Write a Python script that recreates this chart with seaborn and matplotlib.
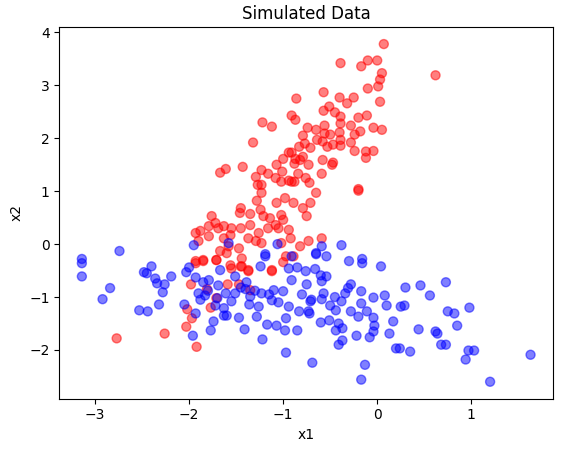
import matplotlib
matplotlib.use("Agg")
import matplotlib.pyplot as plt
import seaborn as sns
import pandas as pd

red_x = [0.07,-0.39,-0.17,-0.10,0.00,0.62,0.05,0.03,0.01,-0.10,-0.57,-0.86,-0.40,-0.25,-0.32,0.03,-0.51,-0.57,-0.45,-0.91,-0.87,-0.11,-0.20,-0.39,-1.22,-1.12,-0.74,-0.65,-0.56,-0.39,-0.28,-0.04,0.05,-0.18,-0.79,-0.56,-0.50,-0.40,-0.24,-1.32,-0.77,-0.64,-0.58,-0.39,-0.71,-0.83,-0.53,-0.47,-0.39,-0.28,-0.24,-0.12,-0.04,-0.12,-0.91,-0.94,-1.00,-0.87,-0.82,-0.79,-0.58,-0.73,-0.48,-0.47,-0.88,-1.61,-1.67,-1.43,-1.23,-1.07,-1.29,-1.16,-1.01,-0.84,-0.59,-0.76,-1.08,-0.94,-0.91,-0.88,-0.72,-1.02,-1.27,-1.23,-0.20,
         -0.20,-0.65,-0.71,-0.79,-0.75,-0.89,-0.98,-1.07,-1.23,-1.28,-1.24,-1.45,-1.46,-1.35,-1.21,-1.14,-1.02,-1.00,-1.08,-1.16,-1.05,-0.94,-0.92,-1.02,-1.26,-1.35,-1.37,-1.29,-1.23,-1.45,-1.55,-1.63,-1.69,-1.76,-1.72,-1.79,-1.88,-1.93,-1.79,-1.90,-1.63,-1.58,-1.67,-1.60,-1.71,-1.47,-1.44,-1.85,-1.93,-1.45,-1.37,-1.12,-0.97,-0.89,-0.82,-0.73,-0.59,-1.56,
         -1.93,-1.85,-1.71,-1.56,-1.44,-1.37,-1.12,-1.00,-1.98,-1.81,-1.59,-1.47,-1.35,-1.71,-1.77,-2.02,-1.97,-2.03,-2.26,-1.92,-2.77,-1.55]
red_y = [3.78,3.42,3.36,3.47,3.47,3.19,3.23,3.11,2.98,2.94,2.87,2.75,2.77,2.77,2.66,2.69,2.60,2.52,2.49,2.43,2.35,2.43,2.39,2.41,2.30,2.22,2.20,2.16,2.24,2.28,2.24,2.20,2.16,2.13,2.05,2.09,2.07,2.11,2.07,1.92,1.90,1.97,1.94,1.97,1.82,1.84,1.84,1.88,1.86,1.92,1.76,1.75,1.76,1.63,1.73,1.73,1.61,1.61,1.59,1.65,1.59,1.50,1.50,1.54,1.52,1.42,1.35,1.46,1.40,1.50,1.27,1.33,1.37,1.33,1.33,1.25,1.25,1.20,1.18,1.18,1.16,1.18,1.12,1.12,1.04,
         1.01,0.97,0.78,0.68,0.53,0.78,0.87,0.78,0.97,0.82,0.65,0.68,0.59,0.57,0.53,0.49,0.55,0.46,0.36,0.30,0.30,0.27,0.11,0.02,0.21,0.36,0.11,0.06,0.02,0.30,0.30,0.34,0.30,0.53,0.40,0.34,0.25,0.21,0.15,0.06,0.11,-0.04,-0.13,-0.17,-0.30,-0.08,-0.27,-0.30,-0.32,-0.42,-0.49,-0.49,-0.23,-0.23,-0.04,0.06,0.11,0.17,
         -0.36,-0.32,-0.30,-0.40,-0.42,-0.51,-0.51,-0.34,-0.76,-0.85,-0.76,-0.76,-0.87,-1.02,-1.20,-1.23,-1.40,-1.56,-1.69,-1.94,-1.78,-0.46]

blue_x = [-3.14,-3.14,-3.14,-2.74,-2.84,-2.92,-2.48,-2.45,-2.40,-2.36,-2.34,-2.26,-2.19,-2.28,-2.32,-2.53,-2.44,-1.95,-1.58,-2.05,-2.03,-2.00,-1.93,-1.96,-1.77,-1.74,-1.93,-1.22,-0.97,-0.69,-1.41,-1.47,-1.60,-1.63,-1.28,-1.17,-1.07,-0.98,-0.85,-0.97,-0.83,-0.72,-0.94,-1.19,-1.06,-0.91,-1.24,-0.94,-0.85,-0.76,-1.67,-1.51,-1.79,-1.69,-1.85,-1.90,-1.83,-1.61,-1.51,-1.39,-1.23,-1.10,-1.00,-0.91,-0.75,-1.35,-1.36,-1.26,-1.12,-1.72,-1.63,
          -0.59,-0.38,-0.65,-0.54,-0.30,-0.16,-0.16,0.04,-0.66,-0.60,-0.54,-0.59,-0.28,-0.31,-0.34,-0.17,-0.04,0.08,0.30,0.46,0.56,0.73,-0.57,-0.59,-0.50,-0.71,-0.73,-0.38,-0.44,-0.28,-0.20,-0.17,-0.11,-0.04,-0.03,-0.04,-0.08,0.10,0.25,0.29,0.17,0.13,0.44,0.62,0.64,0.75,0.82,0.98,0.85,0.68,0.73,0.97,1.03,0.94,1.63,1.20,0.20,0.24,0.35,-0.13,-0.17,-0.60,-0.51,-0.41,-0.37,-0.44,-0.37,-0.41,-0.22,-1.19,-0.65,
          -1.80,-1.70,-1.55,-1.45,-1.30,-1.15,-1.05,-0.80,-0.70,-0.45,-1.88,-1.40]
blue_y = [-0.28,-0.36,-0.61,-0.13,-0.83,-1.04,-0.53,-0.55,-0.42,-0.65,-0.74,-0.76,-0.61,-0.91,-1.14,-1.25,-1.27,-0.02,0.02,-1.14,-0.53,-0.44,-0.63,-1.73,-1.63,-1.46,-1.31,-1.80,-2.05,-2.24,-1.61,-1.39,-1.35,-1.21,-1.37,-1.52,-1.54,-1.63,-1.63,-1.40,-1.27,-1.31,-1.18,-0.23,0.00,-0.23,-0.42,-0.46,-0.44,-0.51,-0.49,-0.61,-0.68,-0.78,-0.72,-0.93,-0.97,-0.93,-0.93,-0.72,-0.93,-0.87,-0.89,-0.68,-0.76,-0.99,-1.14,-1.18,-1.06,-1.16,-1.35,
          -0.04,-0.02,-0.19,-0.23,-0.32,-0.28,-0.36,-0.42,-0.47,-0.59,-0.61,-0.70,-0.76,-0.83,-0.93,-0.89,-1.01,-0.97,-0.82,-0.78,-0.97,-0.72,-0.93,-1.04,-1.16,-1.08,-1.27,-1.08,-1.25,-1.27,-1.37,-1.12,-1.27,-1.39,-1.54,-1.65,-1.76,-1.16,-1.18,-1.16,-1.46,-1.69,-1.61,-1.65,-1.69,-1.27,-1.31,-1.20,-1.54,-1.90,-1.90,-2.01,-2.01,-2.18,-2.09,-2.60,-1.97,-1.97,-2.03,-2.28,-2.56,-1.48,-1.44,-1.50,-1.59,-1.63,-1.82,-1.90,-1.73,-0.19,-0.17,
          -0.88,-1.02,-1.08,-0.82,-0.88,-0.95,-1.10,-0.95,-1.05,-1.00,-1.05,-0.85]

df = pd.DataFrame({
    "x1": red_x + blue_x,
    "x2": red_y + blue_y,
    "cls": ["r"] * len(red_x) + ["b"] * len(blue_x),
})

fig, ax = plt.subplots(figsize=(5.66, 4.53), dpi=100)
sns.scatterplot(data=df, x="x1", y="x2", hue="cls", palette={"r": "red", "b": "blue"},
                alpha=0.5, s=42, linewidth=1, edgecolor="face", legend=False, ax=ax)
ax.set_title("Simulated Data")
ax.set_xlabel("x1")
ax.set_ylabel("x2")
fig.subplots_adjust(left=0.105, right=0.977, top=0.94, bottom=0.12)
fig.savefig("out.png", dpi=100)
